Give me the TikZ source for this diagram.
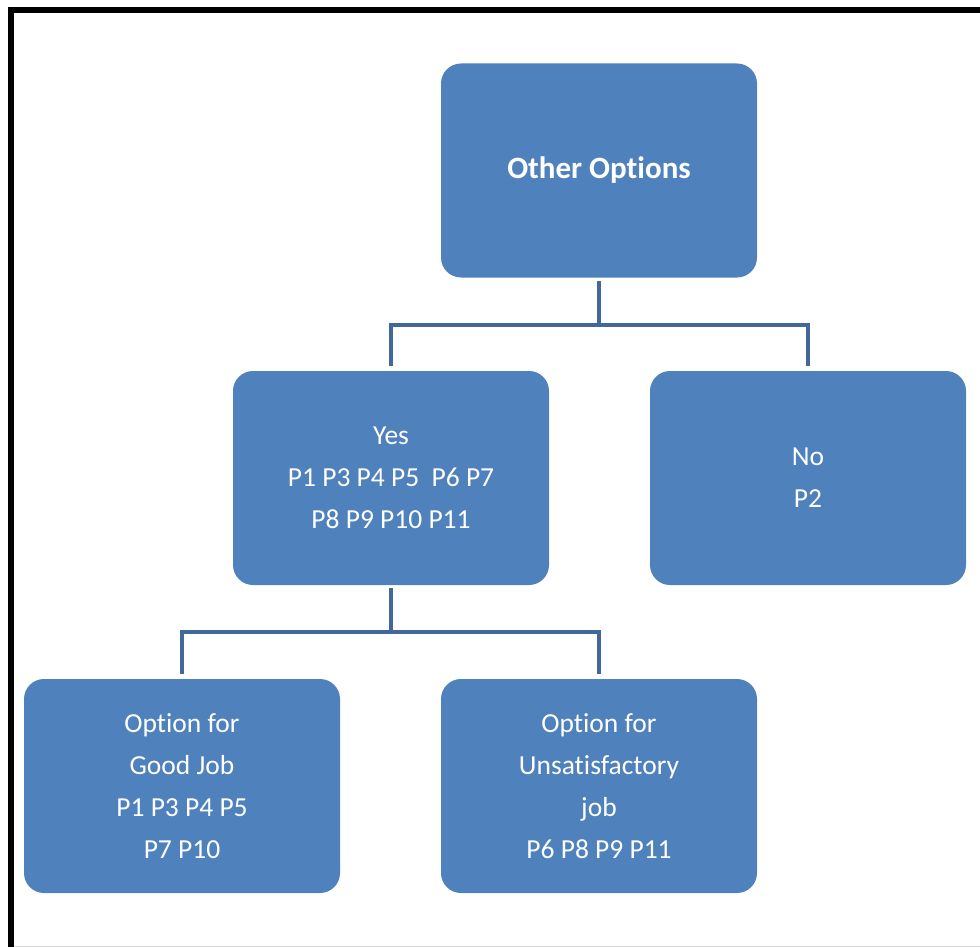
\documentclass[tikz,border=0pt]{standalone}
\usepackage{fontspec}
\setmainfont{Carlito}[Ligatures=NoCommon]
\begin{document}
\begin{tikzpicture}[x=1pt,y=-1pt,
  box/.style={draw=none, fill=boxblue, rounded corners=20pt,
    minimum width=316pt, minimum height=214pt, inner sep=0pt,
    text=white, align=center, font=\fontsize{27.5}{42}\selectfont},
  link/.style={draw=linkblue, line width=4pt}]
\definecolor{boxblue}{HTML}{4F81BD}
\definecolor{linkblue}{HTML}{41689A}
\useasboundingbox (0,0) rectangle (980,947);
% frame
\fill[white] (0,0) rectangle (980,947);
\draw[black, line width=6pt] (11,947) -- (11,10) -- (980,10);
\draw[black!15, line width=1pt] (14,946) -- (980,946);
% boxes
\node[box, font=\fontsize{31}{42}\selectfont\bfseries] (top) at (599,170.5) {Other Options};
\node[box] (yes) at (391,478) {Yes\\P1 P3 P4 P5\ \ P6 P7\\P8 P9 P10 P11};
\node[box] (no) at (808,478) {No\\P2};
\node[box] (good) at (182,786) {Option for\\Good Job\\P1 P3 P4 P5\\P7 P10};
\node[box] (bad) at (599,786) {Option for\\Unsatisfactory\\job\\P6 P8 P9 P11};
% connectors (canvas y runs upward, so shifts below a node are negative)
\draw[link] ([yshift=-3pt]top.south) -- ++(0,44) coordinate (j1);
\draw[link] (yes.north |- j1) ++(0,-2) |- (no.north |- j1) -- ([yshift=5pt]no.north);
\draw[link] (yes.north |- j1) -- ([yshift=5pt]yes.north);
\draw[link] ([yshift=-3pt]yes.south) -- ++(0,44) coordinate (j2);
\draw[link] (good.north |- j2) -- (bad.north |- j2);
\draw[link] (good.north |- j2) ++(0,-2) -- ([yshift=5pt]good.north);
\draw[link] (bad.north |- j2) ++(0,-2) -- ([yshift=5pt]bad.north);
\end{tikzpicture}
\end{document}
